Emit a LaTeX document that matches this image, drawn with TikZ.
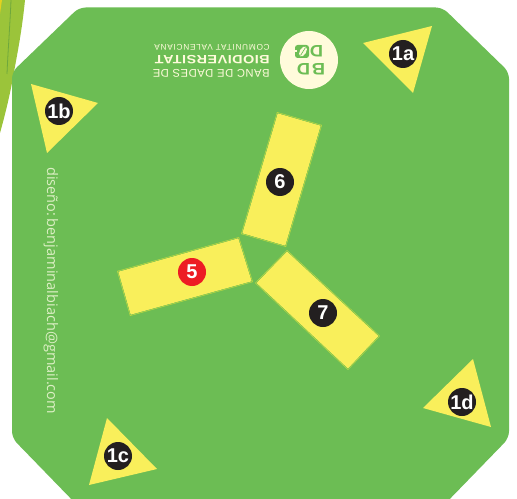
\documentclass[tikz,border=0pt]{standalone}
\usepackage{xcolor}
\usepackage{fontspec}
\setmainfont{Liberation Sans}
\newfontfamily\mailfont{Open Sans}
\usepackage{tikz}
\definecolor{boardgreen}{HTML}{6CBD54}
\definecolor{zoneyellow}{HTML}{F9EF5B}
\definecolor{zoneline}{HTML}{C8DE3E}
\definecolor{badgeblack}{HTML}{231F20}
\definecolor{badgered}{HTML}{ED1C24}
\definecolor{logocream}{HTML}{FFFBDB}
\definecolor{mailgreen}{HTML}{DCEFC4}
\definecolor{leafgreen}{HTML}{9BC43A}
\definecolor{leafdark}{HTML}{6FA83C}
\definecolor{leafyellow}{HTML}{E3D21F}
\tikzset{
  zone/.style={draw=zoneline, line width=0.4pt, double=boardgreen, double distance=0.8pt,
               line join=miter, postaction={fill=zoneyellow}},
  badge/.style={circle, fill=badgeblack, text=white, minimum size=21pt, inner sep=0pt,
                font=\bfseries\fontsize{15}{15}\selectfont},
  logotext/.style={rotate=180, text=logocream, anchor=west, inner sep=0pt},
  logoletter/.style={rotate=180, text=boardgreen, inner sep=0pt,
                font=\bfseries\fontsize{12.5}{12.5}\selectfont\addfontfeature{FakeStretch=1.1}}
}
\begin{document}
\begin{tikzpicture}[x=0.75pt, y=-0.75pt]
    \useasboundingbox (0,0) rectangle (517,499);
    \fill[white] (0,0) rectangle (517,499);
    % leaf behind the board
    \fill[leafgreen] (0,0) -- (25,0) .. controls (22,30) and (18,50) .. (14,72)
      .. controls (10,95) and (5,115) .. (0,133) -- cycle;
    \fill[leafyellow] (0,0) -- (2,0) -- (0,14) -- cycle;
    \draw[leafdark, line width=0.6pt] (11,0) .. controls (10,25) and (8,50) .. (7,74);
    % board
    \fill[boardgreen, rounded corners=5pt] (79,7.5) -- (442.5,7.5) -- (509,72) -- (509,438)
      -- (443,506) -- (78,506) -- (12,438) -- (12,72) -- cycle;
    % corner markers
    \fill[zoneyellow] (432,26) -- (363,43) -- (413,93) -- cycle;
    \fill[zoneyellow] (31,84) -- (98,103) -- (47,153) -- cycle;
    \fill[zoneyellow] (107,418) -- (157,469) -- (89,485) -- cycle;
    \fill[zoneyellow] (473,359) -- (491,427) -- (423,408) -- cycle;
    \node[badge] (m1a) at (403,54) {1a};
    \node[badge] (m1b) at (59,111) {1b};
    \node[badge] (m1c) at (118,456) {1c};
    \node[badge] (m1d) at (462,402) {1d};
    % zones
    \draw[zone] (277.75,113.36) -- (320.63,125.75) -- (285.25,245.64) -- (242.37,233.25) -- cycle;
    \draw[zone] (238.27,238.35) -- (251.61,281.24) -- (130.73,314.65) -- (118.39,271.76) -- cycle;
    \draw[zone] (287.04,251.54) -- (378.43,336.04) -- (347.96,368.46) -- (256.57,282.96) -- cycle;
    \node[badge] (z6) at (280,182) {6};
    \node[badge, fill=badgered] (z5) at (192,272) {5};
    \node[badge] (z7) at (323,313) {7};
    % logo
    \fill[logocream] (309,60) circle (29);
    \node[logoletter] (logob) at (318.5,69.6) {B};
    \node[logoletter] (logod) at (303.5,69.6) {D};
    \node[logoletter] (logoe) at (316.5,51) {D};
    \fill[boardgreen, rounded corners=2pt] (295,45) -- (309,45) -- (309,58) -- (295,58) -- cycle;
    \fill[logocream] (294.5,50.5) rectangle (297,52.5);
    \fill[logocream, rotate around={60:(303,51.5)}] (303,51.5) ellipse (5.5 and 3.2);
    \draw[boardgreen, line width=0.5pt] (300.5,55.5) -- (305.5,47.5);
    \node[logotext, font=\fontsize{8.4}{8.4}\selectfont\addfontfeature{LetterSpace=5}] (banc) at (270,73) {BANC DE DADES DE};
    \node[logotext, font=\bfseries\fontsize{9}{9}\selectfont\addfontfeature{FakeStretch=1.2,LetterSpace=4}] (bio) at (270,60) {BIODIVERSITAT};
    \node[logotext, font=\fontsize{6.2}{6.2}\selectfont\addfontfeature{LetterSpace=9}] (comu) at (270,47) {COMUNITAT VALENCIANA};
    % credit
    \node[rotate=-90, anchor=west, inner sep=0pt, text=mailgreen, font=\mailfont\fontsize{10.9}{10.9}\selectfont] (mail) at (51,167) {diseño:\,benjaminalbiach@gmail.com};
  \end{tikzpicture}
\end{document}
